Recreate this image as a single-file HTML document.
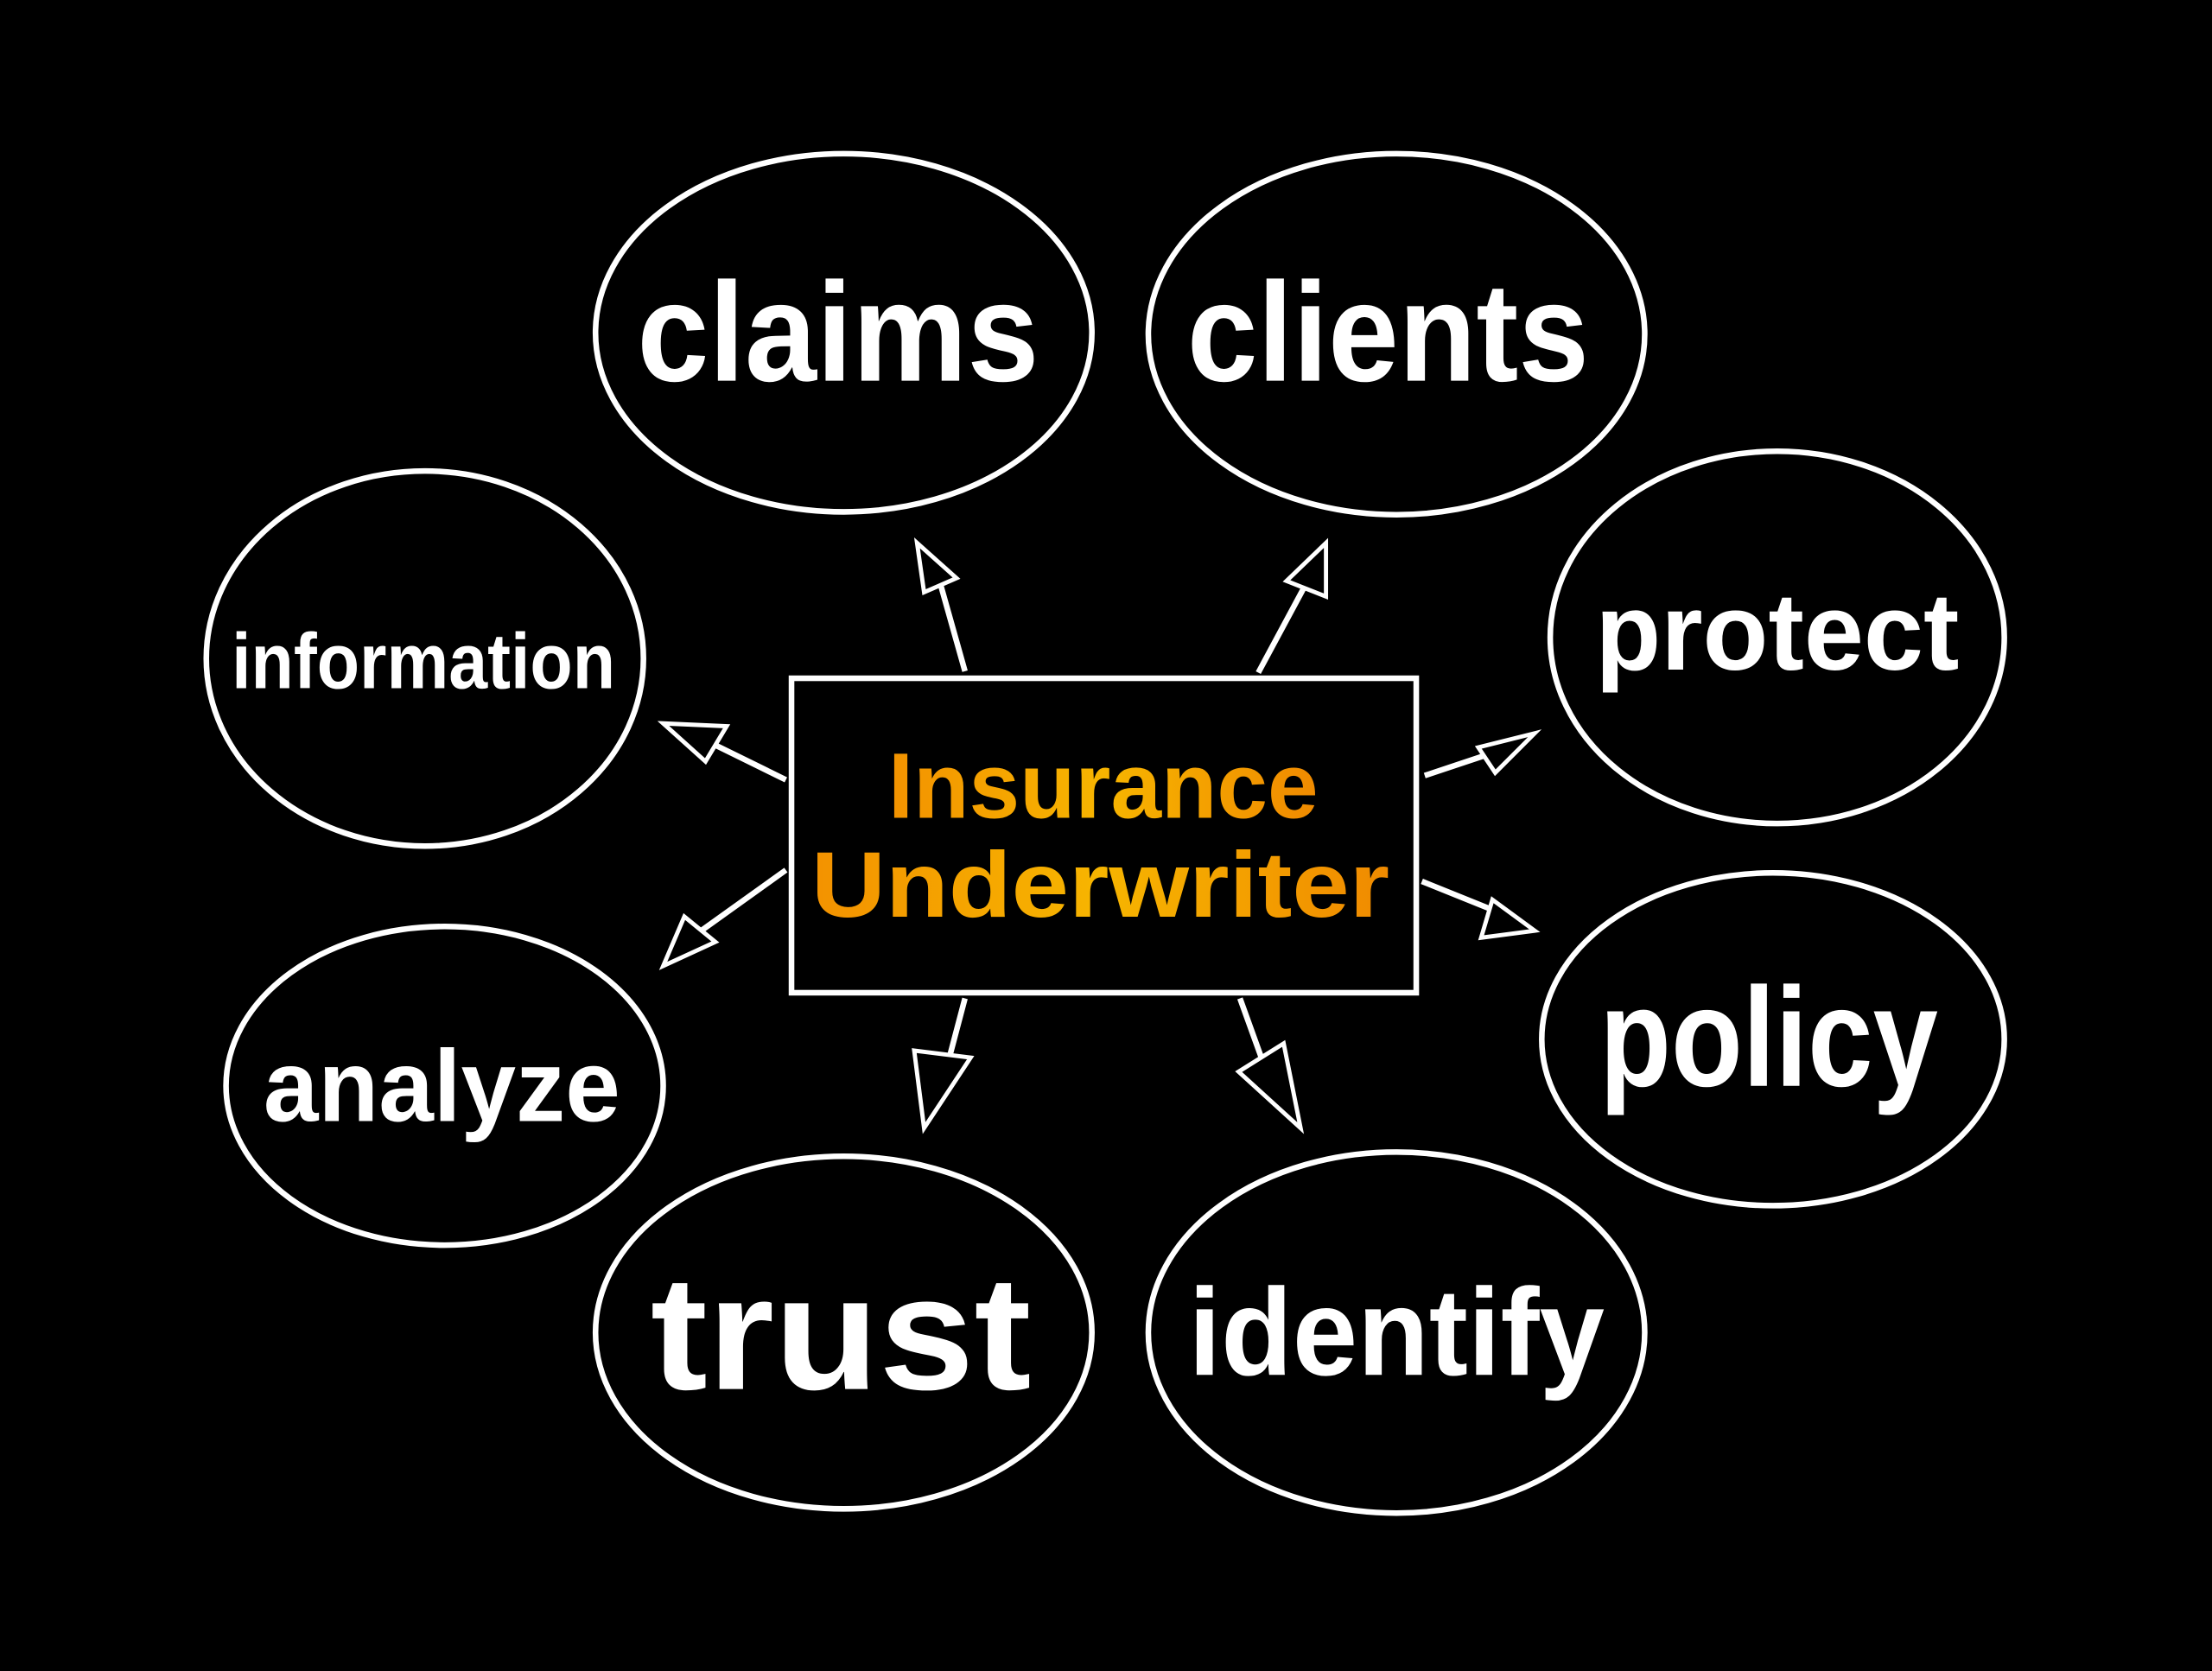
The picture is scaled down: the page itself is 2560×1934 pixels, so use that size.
<!DOCTYPE html>
<html><head><style>html,body{margin:0;padding:0;background:#000;}svg{display:block}</style></head>
<body>
<svg width="2560" height="1934" viewBox="0 0 1568 1185" xmlns="http://www.w3.org/2000/svg">
<defs>
<linearGradient id="g" x1="0" x2="1" y1="0" y2="0">
<stop offset="0" stop-color="#f39200"/><stop offset="0.5" stop-color="#f7b500"/><stop offset="1" stop-color="#f08a00"/>
</linearGradient>
</defs>
<rect width="1568" height="1185" fill="#000"/>
<g fill="none" stroke="#fff" stroke-width="4">
<ellipse cx="598" cy="236" rx="176" ry="127"/>
<ellipse cx="990" cy="237" rx="176" ry="128"/>
<ellipse cx="301" cy="467" rx="155" ry="133"/>
<ellipse cx="1260" cy="452" rx="161" ry="132"/>
<ellipse cx="315" cy="770" rx="155" ry="113"/>
<ellipse cx="1257" cy="737" rx="164" ry="118"/>
<ellipse cx="598" cy="945" rx="176" ry="125"/>
<ellipse cx="990" cy="945" rx="176" ry="128"/>
<rect x="561" y="481" width="443" height="223"/>
<line x1="684" y1="476" x2="664" y2="405"/>
<line x1="892" y1="477" x2="928" y2="410"/>
<line x1="557" y1="553" x2="500" y2="525"/>
<line x1="1010" y1="550" x2="1070" y2="530"/>
<line x1="557" y1="617" x2="490" y2="665"/>
<line x1="1008" y1="625" x2="1070" y2="650"/>
<line x1="684" y1="708" x2="665" y2="780"/>
<line x1="879" y1="708" x2="905" y2="780"/>
</g>
<g fill="#000" stroke="#fff" stroke-width="3">
<polygon points="650,385 678,410 655,420"/>
<polygon points="940,385 940,423 912,412"/>
<polygon points="470,513 515,515 500,540"/>
<polygon points="1088,520 1060,548 1048,530"/>
<polygon points="470,685 485,650 507,668"/>
<polygon points="1088,660 1050,665 1058,638"/>
<polygon points="655,800 648,745 688,750"/>
<polygon points="922,800 878,760 910,740"/>
</g>
<g fill="#fff" font-family="Liberation Sans, sans-serif" font-weight="bold" text-anchor="middle">
<text x="594" y="270" font-size="100" textLength="285" lengthAdjust="spacingAndGlyphs">claims</text>
<text x="984" y="270" font-size="100" textLength="285" lengthAdjust="spacingAndGlyphs">clients</text>
<text x="300" y="488" font-size="56" textLength="272" lengthAdjust="spacingAndGlyphs">information</text>
<text x="1260" y="475" font-size="78" textLength="258" lengthAdjust="spacingAndGlyphs">protect</text>
<text x="313" y="795" font-size="72" textLength="253" lengthAdjust="spacingAndGlyphs">analyze</text>
<text x="1254" y="770" font-size="100" textLength="240" lengthAdjust="spacingAndGlyphs">policy</text>
<text x="596" y="985" font-size="115" textLength="270" lengthAdjust="spacingAndGlyphs">trust</text>
<text x="990" y="975" font-size="88" textLength="295" lengthAdjust="spacingAndGlyphs">identify</text>
</g>
<g fill="url(#g)" font-family="Liberation Sans, sans-serif" font-weight="bold" text-anchor="middle">
<text x="782" y="580" font-size="66" textLength="305" lengthAdjust="spacingAndGlyphs">Insurance</text>
<text x="780" y="650" font-size="66" textLength="410" lengthAdjust="spacingAndGlyphs">Underwriter</text>
</g>
</svg>
</body></html>
